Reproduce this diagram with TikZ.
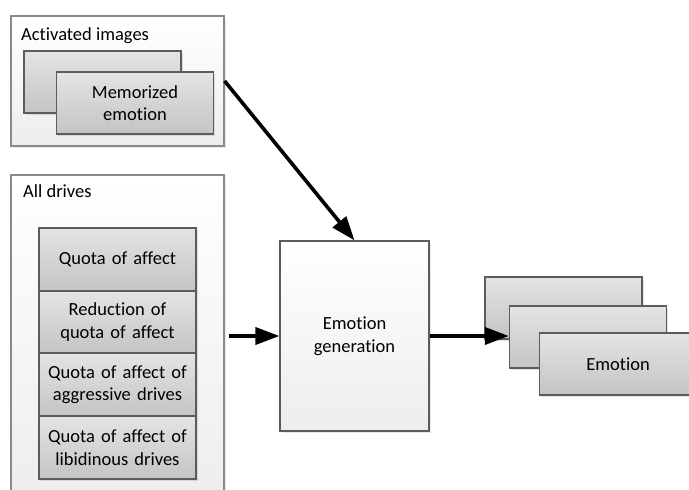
\documentclass[tikz,border=0pt]{standalone}
\usepackage{fontspec}
\setmainfont{Carlito}[Ligatures=NoCommon]
\usetikzlibrary{arrows.meta,shadows}
\definecolor{panelline}{HTML}{8A8A8A}
\definecolor{cardline}{HTML}{5C5C5C}
\definecolor{cardtop}{HTML}{E4E4E4}
\definecolor{cardbot}{HTML}{C4C4C4}
\definecolor{paneltop}{HTML}{FFFFFF}
\definecolor{panelbot}{HTML}{EDEDED}
\tikzset{
  panel/.style={draw=panelline, line width=1.2pt, top color=paneltop, bottom color=panelbot,
    inner sep=0pt, drop shadow={opacity=0.18, shadow xshift=1.5pt, shadow yshift=-1.5pt}},
  card/.style={draw=cardline, line width=1.3pt, top color=cardtop, bottom color=cardbot,
    minimum width=157pt, inner sep=0pt, align=center, text width=152pt,
    drop shadow={opacity=0.22, shadow xshift=1.5pt, shadow yshift=-1.5pt}},
  genbox/.style={draw=cardline, line width=1.2pt, top color=white, bottom color=panelbot,
    inner sep=0pt, align=center, text width=140pt,
    drop shadow={opacity=0.18, shadow xshift=1.5pt, shadow yshift=-1.5pt}},
  label/.style={anchor=west, inner sep=0pt},
  flow/.style={line width=3.6pt, -{Triangle[length=24pt,width=17pt]}},
}
\begin{document}
\begin{tikzpicture}[x=1pt, y=-1pt, font=\fontsize{18.5}{22.5}\selectfont]
\useasboundingbox (0,0) rectangle (689,490);
\clip (0,0) rectangle (689,490);
\fill[white] (0,0) rectangle (689,490);

% Activated images
\node[panel, minimum width=213pt, minimum height=130pt] (act) at (117.5,81) {};
\node[label] (actlbl) at (21,36) {Activated images};
\node[card, minimum height=62pt] (mem1) at (102.5,82) {};
\node[card, minimum height=62pt] (mem2) at (135,103) {Memorized\\emotion};

% All drives
\node[panel, minimum width=213pt, minimum height=330pt] (drives) at (117.5,340) {};
\node[label] (drvlbl) at (23,191) {All drives};
\node[card, minimum height=63pt] (q1) at (117.5,259.5) {Quota of affect};
\node[card, minimum height=62pt] (q2) at (117.5,322) {Reduction of\\quota of affect};
\node[card, minimum height=63pt] (q3) at (117.5,384.5) {Quota of affect of\\aggressive drives};
\node[card, minimum height=63pt] (q4) at (117.5,447.5) {Quota of affect of\\libidinous drives};

% Emotion generation
\node[genbox, minimum width=149pt, minimum height=190pt] (gen) at (354.5,336) {Emotion\\generation};

% Emotion stack
\node[card, minimum height=62pt] (emo1) at (563.5,308) {};
\node[card, minimum height=62pt] (emo2) at (588,337) {};
\node[card, minimum height=62pt] (emo3) at (618,364) {Emotion};

% Connectors
\draw[flow] (act.east) -- (gen.north);
\draw[flow, shorten <=4pt] (drives.east |- gen.west) -- (gen.west);
\draw[flow] (gen.east) -- (gen.east -| emo2.west);
\end{tikzpicture}
\end{document}
